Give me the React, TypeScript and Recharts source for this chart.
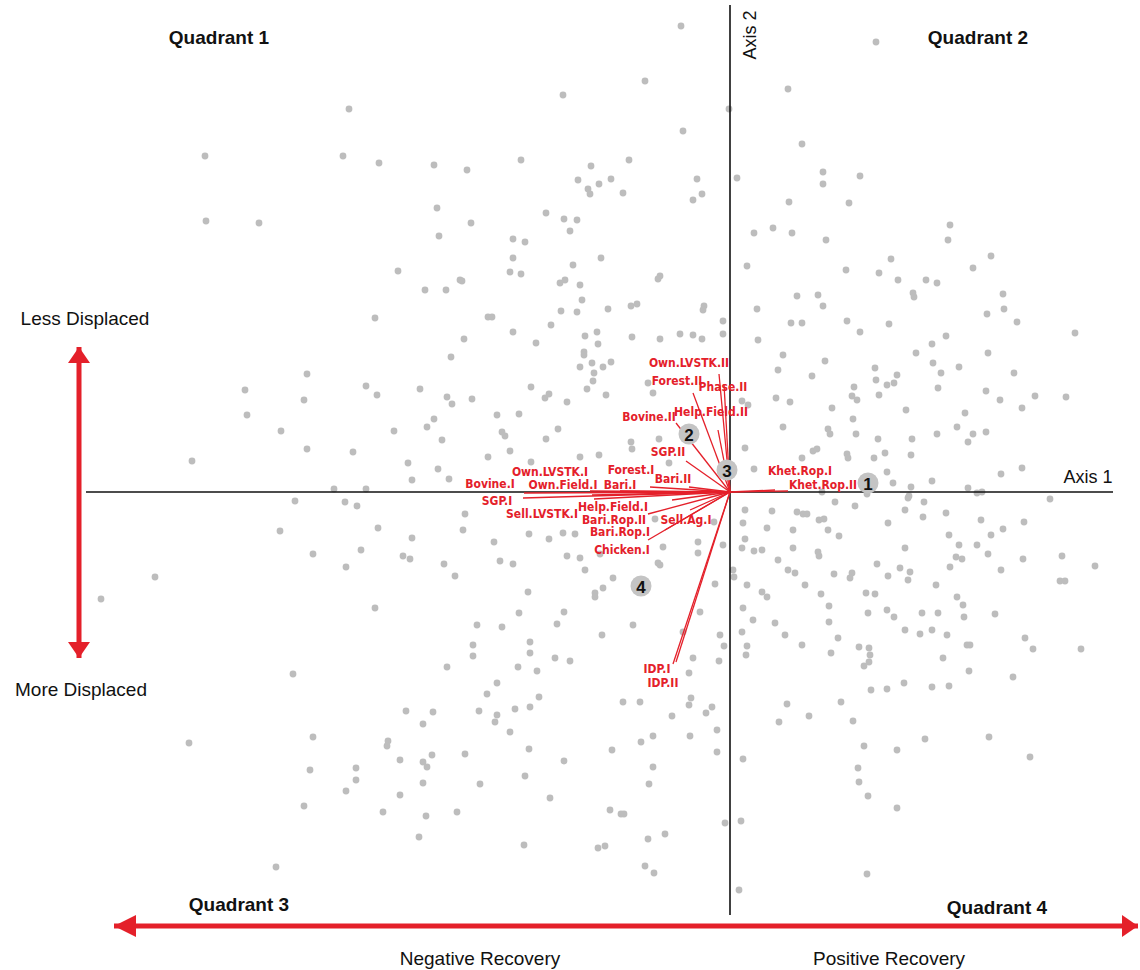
import { Scatter, ScatterChart, XAxis, YAxis } from "recharts";

const RED = "#e4202a";
const GREY = "#bdbdbd";
const LABEL_FONT = "'Liberation Sans Narrow', 'DejaVu Sans Condensed', 'Liberation Sans', Arial, sans-serif";
const TEXT_FONT = "'Liberation Sans', Arial, sans-serif";

type Pt = [number, number];

// individual scores (axis 1, axis 2)
const scoresNorthWest: Pt[] = [
  [-3.81, 3.83], [-5.25, 3.36], [-3.87, 3.36], [-3.51, 3.29], [-2.96, 3.27], [-2.93, 2.84],
  [-2.91, 2.56], [-5.24, 2.71], [-4.71, 2.69], [-3.32, 2.21], [-3.05, 2.02], [-2.84, 2.02],
  [-2.7, 2.12], [-3.55, 1.74],
];

const scoresNorth: Pt[] = [
  [-0.49, 4.66], [-0.85, 4.11], [-1.67, 3.97], [-0.01, 3.83], [-0.47, 3.61], [-2.63, 3.22],
  [-2.09, 3.32], [-1.39, 3.26], [-1.01, 3.32], [-1.52, 3.12], [-1.31, 3.08], [-1.19, 3.13],
  [-1.42, 3.03], [-1.4, 2.98], [-1.07, 2.99], [-0.33, 3.13], [-0.28, 2.98], [-0.37, 2.92],
  [0.07, 3.14], [-2.59, 2.69], [-1.84, 2.79], [-1.66, 2.73], [-1.53, 2.72], [-1.6, 2.61],
  [-2.17, 2.53], [-2.05, 2.5], [-2.17, 2.34], [-1.29, 2.34], [-1.57, 2.27], [-2.2, 2.2],
  [-2.09, 2.18], [-2.68, 2.11], [-1.7, 2.09], [-1.65, 2.12], [-1.5, 2.07], [-0.7, 2.16],
  [-0.72, 2.13], [-1.48, 1.92], [-1.69, 1.81], [-1.53, 1.8], [-1.22, 1.83], [-0.99, 1.86],
  [-0.93, 1.88], [-0.26, 1.86], [-0.27, 1.82], [-2.42, 1.75], [-2.38, 1.75], [-1.79, 1.67],
  [-0.07, 1.71], [0.58, 4.03], [0.59, 2.9], [0.24, 2.59], [0.43, 2.64], [0.62, 2.59],
  [0.17, 2.26], [0.67, 1.96], [0.27, 1.83], [0.61, 1.69],
];

const scoresNorthEast: Pt[] = [
  [1.46, 4.5], [0.72, 3.48], [0.93, 3.2], [0.93, 3.08], [1.3, 3.16], [1.19, 2.89],
  [2.2, 2.67], [2.18, 2.52], [0.96, 2.52], [1.61, 2.33], [2.61, 2.36], [1.16, 2.22],
  [1.49, 2.19], [1.68, 2.12], [1.96, 2.12], [2.07, 2.09], [2.43, 2.24], [1.83, 1.99],
  [1.84, 1.95], [0.88, 1.97], [0.93, 1.86], [2.73, 1.98], [2.74, 1.83], [2.57, 1.78],
  [2.87, 1.7], [1.17, 1.71], [1.59, 1.68], [0.72, 1.69],
];

const scoresWest: Pt[] = [
  [-2.79, 1.35], [-4.23, 1.18], [-4.85, 1.02], [-3.64, 1.06], [-3.53, 0.97], [-3.1, 1.03],
  [-2.83, 0.95], [-2.78, 0.88], [-4.26, 0.92], [-4.83, 0.77], [-2.96, 0.73], [-3.03, 0.65],
  [-4.49, 0.61], [-3.36, 0.61], [-2.88, 0.52], [-4.23, 0.43], [-3.77, 0.4], [-5.38, 0.31],
  [-3.22, 0.29], [-2.92, 0.23], [-3.18, 0.12], [-2.81, 0.13], [-3.96, 0.03], [-3.64, 0.03],
  [-4.35, -0.09], [-3.85, -0.1], [-3.73, -0.14], [-3.52, -0.36], [-4.5, -0.39], [-3.18, -0.46],
  [-4.17, -0.62], [-3.69, -0.58], [-3.27, -0.64], [-3.2, -0.67], [-3.84, -0.75], [-2.86, -0.72],
  [-2.75, -0.84], [-5.75, -0.85], [-6.29, -1.07], [-3.55, -1.16],
];

const scoresEast: Pt[] = [
  [1.3, 1.6], [2.16, 1.56], [3.45, 1.59], [2.02, 1.48], [1.86, 1.39], [2.58, 1.39],
  [0.95, 1.31], [2.03, 1.29], [2.29, 1.25], [1.45, 1.24], [0.82, 1.16], [2.11, 1.19],
  [1.67, 1.17], [2.84, 1.19], [1.46, 1.12], [1.57, 1.07], [1.64, 1.09], [1.24, 1.05],
  [2.08, 1.04], [2.56, 1.01], [1.22, 0.96], [1.27, 0.92], [1.49, 0.97], [2.7, 0.92],
  [3.05, 0.96], [3.36, 0.95], [1.02, 0.84], [1.76, 0.82], [2.92, 0.84], [2.35, 0.79],
  [1.23, 0.73], [2.27, 0.65], [0.98, 0.63], [1.0, 0.58], [1.26, 0.58], [2.07, 0.58],
  [2.43, 0.58], [2.56, 0.6], [1.48, 0.53], [1.82, 0.53], [2.38, 0.5], [0.83, 0.41],
  [0.87, 0.43], [1.17, 0.38], [1.18, 0.34], [1.55, 0.39], [1.81, 0.37], [0.72, 0.34],
  [1.44, 0.34], [1.57, 0.2], [2.71, 0.18], [2.92, 0.24], [2.02, 0.11], [1.63, 0.09],
  [1.81, 0.05], [2.38, 0.04], [2.47, -0.01], [2.52, 0.0], [1.79, -0.04], [1.78, -0.06],
  [0.92, 0.0], [1.37, -0.02], [3.2, -0.07], [1.05, -0.1], [1.25, -0.14], [1.94, -0.1],
  [1.75, -0.18], [0.73, -0.22], [0.77, -0.22], [1.93, -0.25], [2.16, -0.21], [0.89, -0.28],
  [0.94, -0.27], [1.58, -0.31], [2.51, -0.28], [2.94, -0.3], [0.98, -0.38], [2.73, -0.37],
  [1.09, -0.44], [2.19, -0.43], [2.61, -0.43], [2.29, -0.53], [2.47, -0.53], [1.75, -0.56],
  [0.88, -0.6], [0.89, -0.64], [2.58, -0.62], [2.26, -0.65], [2.32, -0.67], [2.93, -0.67],
  [3.32, -0.64], [1.47, -0.72], [2.2, -0.75], [3.65, -0.74], [1.7, -0.76], [1.8, -0.8],
  [2.71, -0.78], [1.04, -0.82], [1.22, -0.81], [1.2, -0.86], [1.58, -0.84], [1.78, -0.88],
  [3.3, -0.89], [3.35, -0.89], [0.75, -0.93], [2.06, -0.93], [1.36, -1.01], [1.45, -1.02],
  [0.91, -1.02], [2.27, -1.05], [0.99, -1.14], [2.33, -1.13], [1.57, -1.18], [1.38, -1.21],
  [1.64, -1.25], [1.92, -1.21], [2.08, -1.21], [2.34, -1.25], [2.65, -1.22], [0.99, -1.3],
  [1.75, -1.38], [2.02, -1.38], [1.9, -1.42], [2.17, -1.43], [1.08, -1.46], [2.95, -1.46],
];

const scoresSouthWest: Pt[] = [
  [-4.37, -1.82], [-2.83, -1.75], [-5.41, -2.51], [-3.24, -2.19], [-2.97, -2.2], [-3.07, -2.32],
  [-4.17, -2.45], [-3.42, -2.49], [-3.43, -2.54], [-3.3, -2.68], [-3.07, -2.7], [-3.03, -2.75],
  [-2.98, -2.63], [-4.2, -2.78], [-3.74, -2.76], [-3.74, -2.88], [-3.07, -2.91], [-3.84, -2.99],
  [-3.3, -3.03], [-4.26, -3.14], [-3.47, -3.2], [-3.04, -3.24], [-2.73, -3.2], [-3.11, -3.45],
  [-4.54, -3.75],
];

const scoresSouth: Pt[] = [
  [-2.57, -1.53], [-2.0, -1.5], [-2.57, -1.64], [-2.0, -1.61], [-1.75, -1.66], [-1.6, -1.69],
  [-2.12, -1.75], [-1.93, -1.79], [-2.33, -1.91], [-2.43, -2.02], [-1.91, -2.05], [-2.51, -2.19],
  [-2.33, -2.23], [-2.35, -2.3], [-2.15, -2.17], [-2.0, -2.15], [-2.2, -2.4], [-2.01, -2.57],
  [-2.65, -2.62], [-1.66, -2.69], [-2.05, -2.84], [-2.5, -2.92], [-1.8, -3.06], [-2.06, -3.53],
  [-1.07, -2.1], [-0.9, -2.1], [-0.37, -1.66], [-0.41, -1.81], [-0.06, -1.54], [-0.11, -1.69],
  [-0.39, -2.06], [-0.41, -2.13], [-0.18, -2.15], [-0.24, -2.21], [-0.58, -2.24], [-0.13, -2.38],
  [-0.89, -2.5], [-0.77, -2.44], [-0.4, -2.44], [-1.18, -2.58], [-0.13, -2.6], [-0.77, -2.75],
  [-0.81, -2.92], [-1.2, -3.18], [-1.09, -3.22], [-1.06, -3.22], [-0.05, -3.31], [-0.65, -3.42],
  [-0.82, -3.47], [-1.32, -3.56], [-1.25, -3.54], [-0.85, -3.74], [-0.76, -3.81], [0.17, -1.54],
  [0.16, -1.63], [0.57, -2.12], [0.49, -2.3], [0.13, -2.67], [0.11, -3.29], [0.09, -3.98],
];

const scoresSouthEast: Pt[] = [
  [0.72, -1.53], [1.01, -1.61], [1.29, -1.55], [1.39, -1.56], [1.4, -1.63], [1.39, -1.7],
  [1.34, -1.74], [2.13, -1.66], [2.37, -1.53], [2.4, -1.53], [3.03, -1.57], [3.51, -1.57],
  [2.39, -1.79], [2.83, -1.85], [1.74, -1.91], [1.41, -1.98], [1.57, -1.97], [2.02, -1.95],
  [2.19, -1.94], [1.11, -2.1], [0.79, -2.24], [1.23, -2.29], [1.95, -2.47], [2.59, -2.45],
  [1.34, -2.54], [1.67, -2.58], [3.0, -2.65], [1.28, -2.76], [1.29, -2.9], [1.38, -3.04],
  [1.67, -3.16], [1.37, -3.82],
];

const scoresCentre: Pt[] = [
  [-2.66, 1.53], [-1.94, 1.49], [-2.17, 1.6], [-1.45, 1.56], [-1.33, 1.6], [-0.98, 1.55],
  [-0.7, 1.53], [-0.5, 1.58], [-0.37, 1.57], [-0.07, 1.58], [-0.28, 1.53], [-1.32, 1.48],
  [-1.46, 1.4], [-1.46, 1.37], [-1.19, 1.3], [-1.38, 1.29], [-1.5, 1.25], [-1.27, 1.25],
  [-1.36, 1.19], [-1.37, 1.11], [-0.82, 1.09], [-1.43, 1.03], [-0.77, 0.99], [-1.24, 0.97],
  [-1.99, 1.05], [-1.81, 0.98], [-1.85, 0.94], [-1.63, 0.9], [-2.58, 0.93], [-2.33, 0.77],
  [-2.11, 0.78], [-1.72, 0.63], [-2.28, 0.6], [-2.25, 0.56], [-1.84, 0.53], [-0.99, 0.5],
  [-0.71, 0.53], [-0.98, 0.43], [-2.42, 0.35], [-2.2, 0.41], [-1.5, 0.35], [-1.31, 0.37],
  [-1.99, 0.3], [-0.61, 0.29], [-2.65, -0.22], [-2.67, -0.38], [-2.36, -0.5], [-2.01, -0.42],
  [-1.81, -0.47], [-1.67, -0.41], [-1.55, -0.42], [-0.75, -0.27], [-0.16, -0.3], [-0.32, -0.5],
  [-0.07, -0.53], [-0.67, -0.55], [-0.32, -0.61], [-2.3, -0.69], [-2.17, -0.72], [-1.63, -0.64],
  [-1.5, -0.66], [-1.3, -0.62], [-0.72, -0.71], [-0.7, -0.73], [-1.45, -0.78], [-1.17, -0.86],
  [-1.27, -0.96], [-1.35, -1.01], [-1.35, -1.05], [-0.15, -0.92], [-2.02, -1.0], [-1.66, -1.2],
  [-2.11, -1.21], [-2.53, -1.33], [-2.28, -1.35], [-1.73, -1.32], [-0.97, -1.33], [-1.28, -1.43],
  [-0.1, -1.43], [-0.3, -1.2], [-0.47, -1.4], [0.28, 1.52], [0.53, 1.37], [0.48, 1.22],
  [0.12, 0.91], [0.18, 0.87], [0.46, 0.94], [0.6, 0.9], [0.53, 0.65], [0.15, 0.44],
  [0.24, 0.23], [0.15, -0.18], [0.42, -0.19], [0.67, -0.2], [0.13, -0.31], [0.37, -0.36],
  [0.63, -0.38], [0.15, -0.47], [0.63, -0.56], [0.12, -0.56], [0.24, -0.59], [0.32, -0.58],
  [0.48, -0.68], [0.58, -0.78], [0.65, -0.81], [0.03, -0.78], [0.04, -0.85], [0.17, -0.93],
  [0.32, -1.0], [0.37, -1.05], [0.13, -1.16], [0.23, -1.28], [0.45, -1.31], [0.55, -1.43],
  [0.12, -1.4],
];

// variable loadings (arrow tips)
const variableNames = [
  "Own.LVSTK.II", "Phase.II", "Forest.II", "Help.Field.II", "Bovine.II", "SGP.II", "Bari.II",
  "Forest.I", "Bari.I", "Own.LVSTK.I", "Own.Field.I", "Sell.LVSTK.I", "Bovine.I", "SGP.I",
  "Help.Field.I", "Bari.Rop.II", "Sell.Ag.I", "Bari.Rop.I", "Chicken.I", "IDP.I", "IDP.II",
  "Khet.Rop.I", "Khet.Rop.II",
];
const loadingX = [
  -0.11, -0.06, -0.37, -0.12, -0.54, -0.44, -0.41, -0.8, -1.1, -1.4, -1.38, -1.36, -2.06, -2.07,
  -0.58, -0.82, -0.4, -0.82, -0.65, -0.57, -0.54, 0.45, 0.58,
];
const loadingY = [
  1.18, 1.08, 0.99, 0.62, 0.69, 0.31, 0.05, 0.05, 0.01, 0.01, -0.03, -0.07, -0.01, -0.06,
  -0.08, -0.22, -0.18, -0.48, -0.38, -1.72, -1.7, 0.02, 0.01,
];
// where each variable name sits
const labelX = [
  -0.41, -0.07, -0.53, -0.19, -0.81, -0.62, -0.57, -0.99, -1.1, -1.8, -1.67, -1.88, -2.4, -2.33,
  -1.17, -1.16, -0.44, -1.1, -1.08, -0.73, -0.67, 0.7, 0.93,
];
const labelY = [
  1.29, 1.05, 1.11, 0.8, 0.75, 0.4, 0.13, 0.22, 0.07, 0.2, 0.07, -0.22, 0.08, -0.09,
  -0.15, -0.28, -0.28, -0.4, -0.58, -1.77, -1.91, 0.21, 0.07,
];

const clusterIds = ["1", "2", "3", "4"];
const clusterX = [1.38, -0.41, -0.03, -0.89];
const clusterY = [0.09, 0.58, 0.22, -0.94];

const axisLines = [
  [{ x: -6.44, y: 0 }, { x: 3.83, y: 0 }],
  [{ x: 0, y: 4.87 }, { x: 0, y: -4.23 }],
];
const bigArrows = [
  [{ x: -6.51, y: 1.45 }, { x: -6.51, y: -1.66 }],
  [{ x: -6.16, y: -4.34 }, { x: 4.08, y: -4.34 }],
];
const arrowHeads = [
  { x: -6.51, y: 1.45, dir: "up" },
  { x: -6.51, y: -1.66, dir: "down" },
  { x: -6.16, y: -4.34, dir: "left" },
  { x: 4.08, y: -4.34, dir: "right" },
];
const annotations = [
  { text: "Quadrant 1", x: -5.11, y: 4.55, bold: true },
  { text: "Quadrant 2", x: 2.48, y: 4.55, bold: true },
  { text: "Quadrant 3", x: -4.91, y: -4.12, bold: true },
  { text: "Quadrant 4", x: 2.67, y: -4.15, bold: true },
  { text: "Axis 1", x: 3.58, y: 0.15 },
  { text: "Axis 2", x: 0.2, y: 4.57, rotate: true },
  { text: "Less Displaced", x: -6.45, y: 1.74 },
  { text: "More Displaced", x: -6.49, y: -1.97 },
  { text: "Negative Recovery", x: -2.5, y: -4.66 },
  { text: "Positive Recovery", x: 1.59, y: -4.66 },
];

const individuals = [
  ...scoresNorthWest, ...scoresNorth, ...scoresNorthEast, ...scoresWest, ...scoresEast,
  ...scoresSouthWest, ...scoresSouth, ...scoresSouthEast, ...scoresCentre,
].map(([x, y]) => ({ x, y }));

const variableLabels = variableNames.map((name, i) => ({ name, x: labelX[i], y: labelY[i] }));
const clusters = clusterIds.map((name, i) => ({ name, x: clusterX[i], y: clusterY[i] }));

const noShape = () => <g />;

const dotShape = (p: any) => <circle cx={p.cx} cy={p.cy} r={3.4} fill={GREY} />;

const clusterShape = (p: any) => (
  <g>
    <circle cx={p.cx} cy={p.cy} r={10.5} fill="#c4c4c4" />
    <text
      x={p.cx}
      y={p.cy + 1}
      textAnchor="middle"
      dominantBaseline="central"
      fontFamily={TEXT_FONT}
      fontWeight="bold"
      fontSize={17}
      fill="#111"
    >
      {p.payload.name}
    </text>
  </g>
);

const varLabelShape = (p: any) => (
  <text
    x={p.cx}
    y={p.cy}
    textAnchor="middle"
    dominantBaseline="central"
    fontFamily={LABEL_FONT}
    fontWeight="bold"
    fontSize={12}
    fill={RED}
  >
    {p.payload.name}
  </text>
);

const headShape = (p: any) => {
  const { cx, cy } = p;
  const len = 16;
  const half = 11;
  let pts = "";
  if (p.payload.dir === "up") pts = `${cx},${cy} ${cx - half},${cy + len} ${cx + half},${cy + len}`;
  if (p.payload.dir === "down") pts = `${cx},${cy} ${cx - half},${cy - len} ${cx + half},${cy - len}`;
  if (p.payload.dir === "left") pts = `${cx},${cy} ${cx + len + 6},${cy - half} ${cx + len + 6},${cy + half}`;
  if (p.payload.dir === "right") pts = `${cx},${cy} ${cx - len},${cy - half} ${cx - len},${cy + half}`;
  return <polygon points={pts} fill={RED} />;
};

const annotationShape = (p: any) => {
  const a = p.payload;
  return (
    <text
      x={p.cx}
      y={p.cy}
      textAnchor="middle"
      dominantBaseline="central"
      fontFamily={TEXT_FONT}
      fontWeight={a.bold ? "bold" : "normal"}
      fontSize={a.bold ? 19 : a.text.startsWith("Axis") ? 18 : 19}
      fill="#111"
      transform={a.rotate ? `rotate(-90 ${p.cx} ${p.cy})` : undefined}
    >
      {a.text}
    </text>
  );
};

export default function App() {
  return (
    <div style={{ position: "absolute", left: 0, top: 0, width: 1140, height: 970, background: "#fff" }}>
      <ScatterChart width={1140} height={970} margin={{ top: 0, right: 0, bottom: 0, left: 0 }}>
        <XAxis type="number" dataKey="x" domain={[-7.3, 4.1]} allowDataOverflow hide />
        <YAxis type="number" dataKey="y" domain={[-4.78, 4.92]} allowDataOverflow hide />
        <Scatter data={individuals} shape={dotShape} isAnimationActive={false} />
        {axisLines.map((seg, i) => (
          <Scatter
            key={`axis-${i}`}
            data={seg}
            line={{ stroke: "#111", strokeWidth: 1.6 }}
            lineType="joint"
            shape={noShape}
            isAnimationActive={false}
          />
        ))}
        {variableNames.map((name, i) => (
          <Scatter
            key={name}
            data={[{ x: 0, y: 0 }, { x: loadingX[i], y: loadingY[i] }]}
            line={{ stroke: RED, strokeWidth: 1.3 }}
            lineType="joint"
            shape={noShape}
            isAnimationActive={false}
          />
        ))}
        <Scatter data={clusters} shape={clusterShape} isAnimationActive={false} />
        <Scatter data={variableLabels} shape={varLabelShape} isAnimationActive={false} />
        {bigArrows.map((seg, i) => (
          <Scatter
            key={`big-${i}`}
            data={seg}
            line={{ stroke: RED, strokeWidth: 5 }}
            lineType="joint"
            shape={noShape}
            isAnimationActive={false}
          />
        ))}
        <Scatter data={arrowHeads} shape={headShape} isAnimationActive={false} />
        <Scatter data={annotations} shape={annotationShape} isAnimationActive={false} />
      </ScatterChart>
    </div>
  );
}
